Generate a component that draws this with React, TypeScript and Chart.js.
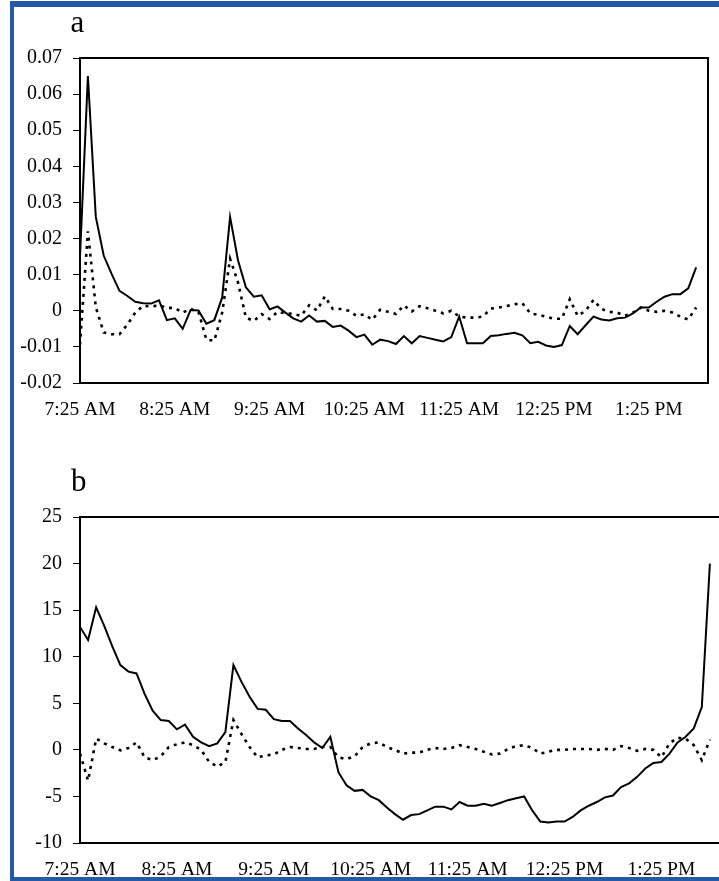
import React, { useEffect, useRef } from "react";
import { Chart, registerables } from "chart.js";

Chart.register(...registerables);

// Sample times (every 5 minutes)
const sampleTimes = [
  "7:25", "7:30", "7:35", "7:40", "7:45", "7:50", "7:55", "8:00", "8:05", "8:10", "8:15", "8:20",
  "8:25", "8:30", "8:35", "8:40", "8:45", "8:50", "8:55", "9:00", "9:05", "9:10", "9:15", "9:20",
  "9:25", "9:30", "9:35", "9:40", "9:45", "9:50", "9:55", "10:00", "10:05", "10:10", "10:15", "10:20",
  "10:25", "10:30", "10:35", "10:40", "10:45", "10:50", "10:55", "11:00", "11:05", "11:10", "11:15", "11:20",
  "11:25", "11:30", "11:35", "11:40", "11:45", "11:50", "11:55", "12:00", "12:05", "12:10", "12:15", "12:20",
  "12:25", "12:30", "12:35", "12:40", "12:45", "12:50", "12:55", "13:00", "13:05", "13:10", "13:15", "13:20",
  "13:25", "13:30", "13:35", "13:40", "13:45", "13:50", "13:55",
];

const tickTimes = ["7:25", "8:25", "9:25", "10:25", "11:25", "12:25", "13:25"];
const tickLabels = ["7:25 AM", "8:25 AM", "9:25 AM", "10:25 AM", "11:25 AM", "12:25 PM", "1:25 PM"];
const axisEndTime = "14:02.5";

// Panel a
const aSolid = [
  0.015, 0.065, 0.026, 0.0153, 0.0102, 0.0055, 0.0041, 0.0025, 0.0021, 0.002,
  0.0029, -0.0026, -0.0021, -0.005, 0.0002, 0.0001, -0.0036, -0.0026, 0.0037, 0.026,
  0.014, 0.0065, 0.0039, 0.0043, 0.0004, 0.0012, -0.0005, -0.0021, -0.003, -0.0013,
  -0.003, -0.0028, -0.0045, -0.0041, -0.0055, -0.0073, -0.0066, -0.0094, -0.008, -0.0084,
  -0.0092, -0.007, -0.009, -0.007, -0.0075, -0.008, -0.0085, -0.0073, -0.0016, -0.009,
  -0.009, -0.009, -0.007, -0.0068, -0.0064, -0.0061, -0.0068, -0.009, -0.0086, -0.0096,
  -0.01, -0.0095, -0.0042, -0.0065, -0.004, -0.0016, -0.0024, -0.0027, -0.0021, -0.0019,
  -0.0007, 0.0009, 0.0009, 0.0025, 0.0039, 0.0046, 0.0046, 0.0062, 0.012,
];
const aDotted = [
  -0.0094, 0.022, 0.001, -0.006, -0.0065, -0.0065, -0.0038, -0.0005, 0.0014, 0.0012,
  0.0015, 0.0008, 0.0008, -0.0005, 0.0005, -0.0003, -0.008, -0.0083, -0.0005, 0.0144,
  0.0079, -0.0019, -0.0028, -0.0009, -0.0023, -0.0003, -0.0007, -0.0009, -0.0014, 0.0015,
  0.0001, 0.004, 0.0005, 0.0005, 0, -0.0014, -0.001, -0.0025, 0.0003, -0.0003,
  -0.0009, 0.0015, -0.0002, 0.0013, 0.0007, 0, -0.0007, 0, -0.0016, -0.0019,
  -0.0019, -0.0016, 0.0006, 0.0009, 0.0013, 0.0018, 0.0021, -0.0007, -0.0011, -0.0016,
  -0.0022, -0.0022, 0.0032, -0.0014, 0, 0.003, 0.0005, -0.0003, -0.0005, -0.0014,
  -0.0005, 0.0009, 0, -0.0003, 0, -0.0005, -0.0016, -0.0024, 0.0009,
];

// Panel b
const bSolid = [
  13.2, 11.8, 15.3, 13.3, 11.1, 9.1, 8.4, 8.2, 6.0, 4.2,
  3.2, 3.1, 2.2, 2.7, 1.4, 0.8, 0.4, 0.7, 1.9, 9.1,
  7.3, 5.7, 4.4, 4.3, 3.3, 3.1, 3.1, 2.3, 1.6, 0.8,
  0.2, 1.4, -2.4, -3.8, -4.4, -4.3, -5.0, -5.4, -6.2, -6.9,
  -7.5, -7.0, -6.9, -6.5, -6.1, -6.1, -6.4, -5.6, -6.0, -6.0,
  -5.8, -6.0, -5.7, -5.4, -5.2, -5.0, -6.5, -7.7, -7.8, -7.7,
  -7.7, -7.2, -6.5, -6.0, -5.6, -5.1, -4.9, -4.0, -3.6, -2.9,
  -2.0, -1.4, -1.3, -0.4, 0.8, 1.4, 2.3, 4.6, 20.0,
];
const bDotted = [
  -0.4, -3.3, 1.2, 0.7, 0.3, -0.05, 0.2, 0.8, -0.8, -1.1,
  -0.7, 0.3, 0.6, 0.8, 0.5, 0, -1.3, -1.8, -1.3, 3.2,
  1.7, 0.3, -0.8, -0.6, -0.5, 0, 0.3, 0.2, 0.1, 0.1,
  0.3, 0.3, -0.8, -1.0, -0.7, 0.3, 0.7, 0.8, 0.3, 0,
  -0.4, -0.3, -0.3, 0, 0.2, 0.1, 0.2, 0.5, 0.3, 0.1,
  -0.2, -0.5, -0.4, 0.1, 0.4, 0.5, 0.2, -0.4, -0.2, 0,
  0, 0.1, 0.1, 0.1, 0, 0.1, 0, 0.4, 0.2, -0.1,
  0.1, 0, -0.8, 0.7, 1.3, 1.2, 0.5, -1.1, 1.1,
];

const aYRange = { min: -0.02, max: 0.07, step: 0.01 };
const bYRange = { min: -10, max: 25, step: 5 };

const FONT = "'Liberation Serif', 'Times New Roman', serif";

function toMin(t: string): number {
  const [h, m] = t.split(":").map(Number);
  return h * 60 + m - (7 * 60 + 25);
}

const boxPlugin = {
  id: "plotBox",
  afterDatasetsDraw(chart: any) {
    const { ctx, chartArea } = chart;
    const { left, top, right, bottom } = chartArea;
    ctx.save();
    ctx.strokeStyle = "#000";
    ctx.lineWidth = 2;
    ctx.strokeRect(left, top, right - left, bottom - top);
    ctx.restore();
  },
};

function makeConfig(
  solid: number[],
  dotted: number[],
  yr: { min: number; max: number; step: number },
  yFmt: (v: number) => string,
  padTop: number,
  padRight: number
): any {
  const pts = (arr: number[]) => sampleTimes.map((t, i) => ({ x: toMin(t), y: arr[i] }));
  return {
    type: "line",
    data: {
      datasets: [
        {
          data: pts(solid),
          borderColor: "#000",
          borderWidth: 2,
          pointRadius: 0,
          tension: 0,
          fill: false,
        },
        {
          data: pts(dotted),
          borderColor: "#000",
          borderWidth: 2.6,
          borderDash: [3, 5],
          pointRadius: 0,
          tension: 0,
          fill: false,
        },
      ],
    },
    options: {
      responsive: false,
      animation: false,
      events: [],
      layout: { padding: { top: padTop, right: padRight, left: 0, bottom: 0 } },
      plugins: { legend: { display: false }, tooltip: { enabled: false }, title: { display: false } },
      scales: {
        x: {
          type: "linear",
          min: 0,
          max: toMin(axisEndTime.split(".")[0]) + 0.5,
          afterBuildTicks: (s: any) => {
            s.ticks = tickTimes.map((t) => ({ value: toMin(t) }));
          },
          afterFit: (s: any) => {
            s.height = 40;
          },
          ticks: {
            autoSkip: false,
            maxRotation: 0,
            minRotation: 0,
            padding: 15,
            color: "#000",
            font: { family: FONT, size: 19.5 },
            callback: (v: number) => {
              const idx = tickTimes.findIndex((t) => toMin(t) === v);
              return idx >= 0 ? tickLabels[idx] : "";
            },
          },
          grid: { display: false, drawTicks: false },
          border: { display: false },
        },
        y: {
          type: "linear",
          min: yr.min,
          max: yr.max,
          afterFit: (s: any) => {
            s.width = 80;
          },
          ticks: {
            stepSize: yr.step,
            padding: 11,
            color: "#000",
            font: { family: FONT, size: 20 },
            callback: (v: number) => yFmt(v),
          },
          grid: {
            display: true,
            drawOnChartArea: false,
            drawTicks: true,
            tickLength: 7,
            color: "#000",
            lineWidth: 1,
          },
          border: { display: false },
        },
      },
    },
    plugins: [boxPlugin],
  };
}

function ChartCanvas(props: {
  config: any;
  left: number;
  top: number;
  width: number;
  height: number;
}) {
  const ref = useRef<HTMLCanvasElement | null>(null);
  useEffect(() => {
    if (!ref.current) return;
    const chart = new Chart(ref.current, props.config);
    return () => chart.destroy();
  }, []);
  return (
    <canvas
      ref={ref}
      width={props.width}
      height={props.height}
      style={{
        position: "absolute",
        left: props.left,
        top: props.top,
        width: props.width,
        height: props.height,
      }}
    />
  );
}

export default function App() {
  const fmtA = (v: number) => (Math.abs(v) < 1e-9 ? "0" : v.toFixed(2));
  const fmtB = (v: number) => String(Math.round(v));
  const cfgA = makeConfig(aSolid, aDotted, aYRange, fmtA, 58, 11);
  const cfgB = makeConfig(bSolid, bDotted, bYRange, fmtB, 77, 8);
  const blue = "#2359a6";
  return (
    <div
      style={{
        position: "fixed",
        left: 0,
        top: 0,
        width: 719,
        height: 881,
        overflow: "hidden",
        background: "#fff",
      }}
    >
      <ChartCanvas config={cfgA} left={0} top={0} width={719} height={423} />
      <ChartCanvas config={cfgB} left={0} top={440} width={730} height={443} />
      <div
        style={{
          position: "absolute",
          left: 70.5,
          top: 6,
          fontFamily: FONT,
          fontSize: 31,
          lineHeight: "31px",
          color: "#000",
        }}
      >
        a
      </div>
      <div
        style={{
          position: "absolute",
          left: 71,
          top: 465,
          fontFamily: FONT,
          fontSize: 31,
          lineHeight: "31px",
          color: "#000",
        }}
      >
        b
      </div>
      <div style={{ position: "absolute", left: 10, top: 1, width: 4, height: 880, background: blue }} />
      <div style={{ position: "absolute", left: 10, top: 1, width: 709, height: 6, background: blue }} />
      <div style={{ position: "absolute", left: 10, top: 877, width: 709, height: 4, background: blue }} />
    </div>
  );
}
